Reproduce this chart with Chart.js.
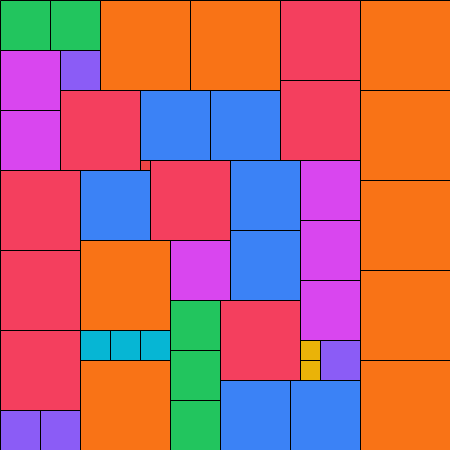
<!DOCTYPE html>
<html>
<head>
<meta charset="utf-8">
<script src="https://cdn.jsdelivr.net/npm/chart.js@4/dist/chart.umd.min.js"></script>
<style>
  html, body { margin: 0; padding: 0; background: #ffffff; }
  #wrap { width: 450px; height: 450px; position: relative; }
</style>
</head>
<body>
<div id="wrap"><canvas id="grid"></canvas></div>
<script>
/* ── Data (grid units, 1 unit = one tenth of the board) ───────────────────── */
const boardSize = 45;
const sqLeft  = [0, 5, 10, 19, 28, 36, 0, 6, 0, 6, 14, 21, 28, 36, 14, 0, 8, 15, 23, 30, 36,
                 0, 8, 17, 23, 30, 30, 36, 17, 22, 8, 11, 14, 30, 30, 32, 0, 0, 4, 8, 17, 17, 22, 29, 36];
const sqTop   = [0, 0, 0, 0, 0, 0, 5, 5, 11, 9, 9, 9, 8, 9, 16, 17, 17, 16, 16, 16, 18,
                 25, 24, 24, 23, 22, 28, 27, 30, 30, 33, 33, 33, 34, 36, 34, 33, 41, 41, 36, 35, 40, 38, 38, 36];
const sqSize  = [5, 5, 9, 9, 8, 9, 6, 4, 6, 8, 7, 7, 8, 9, 1, 8, 7, 8, 7, 6, 9,
                 8, 9, 6, 7, 6, 6, 9, 5, 8, 3, 3, 3, 2, 2, 4, 8, 4, 4, 9, 5, 5, 7, 7, 9];
const sqGroup = ['green', 'green', 'orange', 'orange', 'rose', 'orange', 'fuchsia', 'violet', 'fuchsia',
                 'rose', 'blue', 'blue', 'rose', 'orange', 'red', 'rose', 'blue', 'rose', 'blue', 'fuchsia',
                 'orange', 'rose', 'orange', 'fuchsia', 'blue', 'fuchsia', 'fuchsia', 'orange', 'green',
                 'rose', 'cyan', 'cyan', 'cyan', 'yellow', 'yellow', 'violet', 'rose', 'violet', 'violet',
                 'orange', 'green', 'green', 'blue', 'blue', 'orange'];

/* ── Styles ───────────────────────────────────────────────────────────────── */
const palette = {
  green:   '#22c55e',
  orange:  '#f97316',
  rose:    '#f43f5e',
  fuchsia: '#d946ef',
  violet:  '#8b5cf6',
  blue:    '#3b82f6',
  cyan:    '#06b6d4',
  yellow:  '#eab308',
  red:     '#ef4444'
};

const points = sqLeft.map((l, i) => ({ x: l + sqSize[i] / 2, y: sqTop[i] + sqSize[i] / 2, s: sqSize[i] }));

// rect pointStyle: half side = radius * SQRT1_2
function rectRadius(ctx) {
  const sc = ctx.chart.scales.x;
  const raw = ctx.raw;
  if (!raw) return 0;
  const px = sc.getPixelForValue(raw.s) - sc.getPixelForValue(0);
  return (px / 2) * Math.SQRT2;
}

new Chart(document.getElementById('grid'), {
  type: 'scatter',
  data: {
    datasets: [
      {
        // outlines, drawn on top, shifted half a pixel for crisp lines
        data: points,
        xAxisID: 'x2',
        yAxisID: 'y2',
        pointStyle: 'rect',
        pointRadius: rectRadius,
        backgroundColor: 'rgba(0,0,0,0)',
        borderColor: '#000000',
        borderWidth: 1,
        order: 0
      },
      {
        data: points,
        pointStyle: 'rect',
        pointRadius: rectRadius,
        backgroundColor: points.map((p, i) => palette[sqGroup[i]]),
        borderWidth: 0,
        order: 1
      }
    ]
  },
  options: {
    responsive: true,
    maintainAspectRatio: false,
    animation: false,
    devicePixelRatio: 1,
    events: [],
    layout: { padding: 0 },
    plugins: { legend: { display: false }, tooltip: { enabled: false } },
    scales: {
      x:  { type: 'linear', display: false, min: 0, max: boardSize },
      y:  { type: 'linear', display: false, min: 0, max: boardSize, reverse: true },
      x2: { type: 'linear', display: false, min: -0.05, max: boardSize - 0.05 },
      y2: { type: 'linear', display: false, min: -0.05, max: boardSize - 0.05, reverse: true }
    }
  }
});
</script>
</body>
</html>
